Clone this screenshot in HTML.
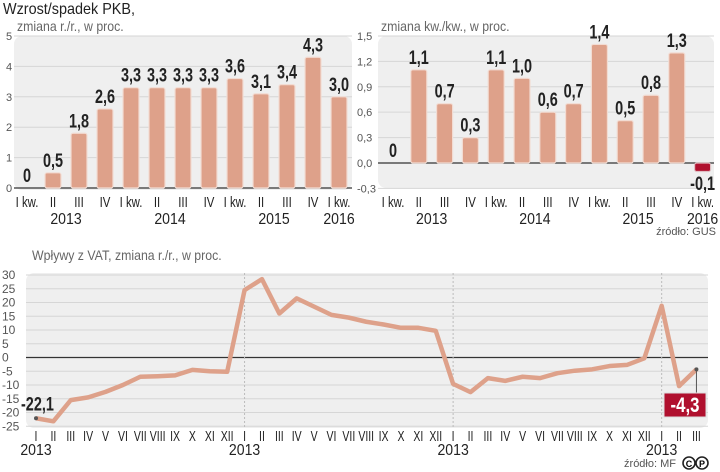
<!DOCTYPE html>
<html><head><meta charset="utf-8"><style>
html,body{margin:0;padding:0;background:#fff;}
svg{display:block;font-family:"Liberation Sans",sans-serif;}
.ax{font-size:11px;fill:#555;}
.tk{font-size:15px;fill:#222;}
.yr{font-size:16px;fill:#222;}
.val{font-size:19px;font-weight:bold;fill:#222;}
</style></head><body>
<svg id="s" width="720" height="472" viewBox="0 0 720 472">
<text x="3" y="14" font-size="16" fill="#222" transform="translate(3,14) scale(0.9,1) translate(-3,-14)">Wzrost/spadek PKB,</text>
<text x="17" y="31" font-size="14" fill="#666" transform="translate(17,31) scale(0.88,1) translate(-17,-31)">zmiana r./r., w proc.</text>
<text x="381" y="31" font-size="14" fill="#666" transform="translate(381,31) scale(0.88,1) translate(-381,-31)">zmiana kw./kw., w proc.</text>
<text x="32" y="260" font-size="14" fill="#666" transform="translate(32,260) scale(0.88,1) translate(-32,-260)">Wpływy z VAT, zmiana r./r., w proc.</text>
<text x="716" y="235" font-size="11" fill="#555" text-anchor="end">źródło: GUS</text>
<text x="676" y="467" font-size="11" fill="#555" text-anchor="end">źródło: MF</text>
<g><circle cx="689" cy="463" r="6" fill="none" stroke="#222" stroke-width="1.6"/><circle cx="702" cy="463" r="6" fill="none" stroke="#222" stroke-width="1.6"/><text x="689" y="467" font-size="9" font-weight="bold" text-anchor="middle">C</text><text x="702" y="467" font-size="9" font-weight="bold" text-anchor="middle">P</text></g>
<g id="g1"></g><g id="g2"></g><g id="g3"></g>
</svg>
<script>
const NS="http://www.w3.org/2000/svg";
function mk(p,t,a,txt){const e=document.createElementNS(NS,t);for(const k in a)e.setAttribute(k,a[k]);if(txt!==undefined)e.textContent=txt;p.appendChild(e);return e;}
function ntext(p,x,y,cls,anchor,txt,sx,extra){const e=mk(p,"text",Object.assign({x:0,y:0,class:cls,"text-anchor":anchor,transform:"translate("+x+","+y+") scale("+sx+",1)"},extra||{}),txt);return e;}

// Chart 1 data
const c1Cats=["I kw.","II","III","IV","I kw.","II","III","IV","I kw.","II","III","IV","I kw."];
const c1Vals=[0,0.5,1.8,2.6,3.3,3.3,3.3,3.3,3.6,3.1,3.4,4.3,3.0];
const c1Labels=["0","0,5","1,8","2,6","3,3","3,3","3,3","3,3","3,6","3,1","3,4","4,3","3,0"];
const c1Ticks=[0,1,2,3,4,5];
const c1Years=[["2013",1.5],["2014",5.5],["2015",9.5],["2016",12]];
// Chart 2 data
const c2Vals=[0,1.1,0.7,0.3,1.1,1.0,0.6,0.7,1.4,0.5,0.8,1.3,-0.1];
const c2Labels=["0","1,1","0,7","0,3","1,1","1,0","0,6","0,7","1,4","0,5","0,8","1,3","-0,1"];
const c2Ticks=[1.5,1.2,0.9,0.6,0.3,0.0,-0.3];
const c2TickLabels=["1,5","1,2","0,9","0,6","0,3","0,0","-0,3"];
// Chart 3 data
const c3Vals=[-22.1,-23.2,-15.5,-14.5,-12.5,-10,-7,-6.8,-6.5,-4.5,-5,-5.2,
 24.5,28.5,16,21.5,18.5,15.5,14.5,13,12,10.8,10.8,9.7,
 -9.6,-12.6,-7.5,-8.5,-7,-7.5,-5.7,-4.8,-4.3,-3.1,-2.7,-0.3,
 18.8,-10.4,-4.3];
const c3Months=["I","II","III","IV","V","VI","VII","VIII","IX","X","XI","XII"];
const c3Ticks=[30,25,20,15,10,5,0,-5,-10,-15,-20,-25];

function bars(g,o){
  mk(g,"rect",{x:o.bx,y:o.by,width:o.bw,height:o.bh,rx:8,fill:"#efefef",});
  o.ticks.forEach((t,i)=>{const y=o.y(t);
    mk(g,"line",{x1:o.bx,x2:o.bx+o.bw,y1:y,y2:y,stroke:t===0?"#333":"#d6d6d6","stroke-width":t===0?1.2:1});
    const e=mk(g,"text",{x:o.tx,y:y+4,class:"ax","text-anchor":"start"},o.tl?o.tl[i]:String(t));
    
    });
  o.vals.forEach((v,i)=>{const cx=o.x(i),y0=o.y(0),y1=o.y(v);
    const r=mk(g,"rect",{x:cx-8,y:Math.min(y0,y1),width:16,height:Math.max(Math.abs(y1-y0),v===0?0:1),fill:v<0?"#b0102e":"#dea18a",stroke:v<0?"#e0c0c4":"#f2dcd3","stroke-width":1.2,rx:2});
    
    
    const ly=v<0?y0+27:y1-6;
    const t=ntext(g,cx,ly,"val","middle",o.labels[i],0.76);
    
    
    const c=ntext(g,cx,o.catY,"tk","middle",c1Cats[i],0.76);
    
    });
  c1Years.forEach(([yl,p])=>{const e=ntext(g,o.x(p),o.catY+17,"yr","middle",yl,0.88);
    
    });
}
bars(document.getElementById("g1"),{name:"yoy",bx:14,by:36,bw:338,bh:154,vals:c1Vals,labels:c1Labels,ticks:c1Ticks,tx:6,
  x:i=>27+i*26,y:v=>188-v*30.4,catY:207});
bars(document.getElementById("g2"),{name:"qoq",bx:378,by:36,bw:336,bh:152,vals:c2Vals,labels:c2Labels,ticks:c2Ticks,tl:c2TickLabels,tx:357,
  x:i=>393+i*25.8,y:v=>163-v*84.7,catY:207});

// Chart 3
(function(){
  const g=document.getElementById("g3");
  const X=i=>36+i*17.38, Y=v=>357.5-v*2.75;
  mk(g,"rect",{x:26,y:273,width:682,height:155,rx:8,fill:"#efefef",});
  c3Ticks.forEach(t=>{const y=Y(t);
    mk(g,"line",{x1:26,x2:708,y1:y,y2:y,stroke:t===0?"#333":"#d6d6d6","stroke-width":t===0?1.2:1});
    const e=mk(g,"text",{x:2,y:y+4,class:"ax",style:"font-size:12px"},String(t));
    
    });
  [12,24,36].forEach(i=>mk(g,"line",{x1:X(i),x2:X(i),y1:273,y2:428,stroke:"#bbb","stroke-dasharray":"2,2"}));
  c3Vals.forEach((v,i)=>{const e=ntext(g,X(i),441,"tk","middle",c3Months[i%12],0.7);
    
    });
  [0,12,24,36].forEach(i=>{const e=ntext(g,X(i),455,"yr","middle","2013",0.88);
    
    });
  const pl=mk(g,"polyline",{points:c3Vals.map((v,i)=>X(i)+","+Y(v)).join(" "),fill:"none",stroke:"#dea18a","stroke-width":4.5,"stroke-linejoin":"round"});
  
  
  const n=c3Vals.length-1;
  mk(g,"circle",{cx:X(0),cy:Y(c3Vals[0]),r:2,fill:"#555"});
  mk(g,"circle",{cx:X(n),cy:Y(c3Vals[n]),r:2,fill:"#555"});
  const f=ntext(g,X(0)-15,Y(c3Vals[0])-8,"val","start","-22,1",0.76);
  
  
  mk(g,"line",{x1:X(n),x2:X(n),y1:Y(c3Vals[n]),y2:393,stroke:"#555"});
  mk(g,"rect",{x:664,y:393,width:42,height:24,fill:"#b0102e",stroke:"#ddd"});
  const l=ntext(g,685,412,"val","middle","-4,3",0.8,{style:"fill:#fff;font-size:21px"});
  
  
})();
</script>
</body></html>
